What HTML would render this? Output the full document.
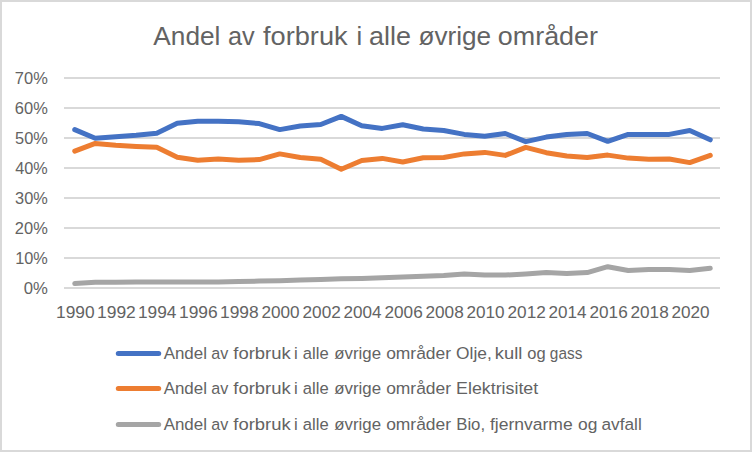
<!DOCTYPE html>
<html><head><meta charset="utf-8"><style>
html,body{margin:0;padding:0;background:#fff;}
svg{display:block;}
text{font-family:"Liberation Sans",sans-serif;fill:#636363;}
</style></head><body>
<svg width="752" height="452" viewBox="0 0 752 452">
<rect x="1" y="1" width="750" height="450" fill="#fff" stroke="#d9d9d9" stroke-width="2"/>
<text x="153.35" y="45.0" font-size="25.5" textLength="67.11" lengthAdjust="spacingAndGlyphs">Andel</text>
<text x="227.92" y="45.0" font-size="25.5" textLength="26.76" lengthAdjust="spacingAndGlyphs">av</text>
<text x="263.01" y="45.0" font-size="25.5" textLength="84.65" lengthAdjust="spacingAndGlyphs">forbruk</text>
<text x="356.47" y="45.0" font-size="25.5">i</text>
<text x="369.06" y="45.0" font-size="25.5" textLength="41.94" lengthAdjust="spacingAndGlyphs">alle</text>
<text x="418.54" y="45.0" font-size="25.5" textLength="72.62" lengthAdjust="spacingAndGlyphs">øvrige</text>
<text x="497.87" y="45.0" font-size="25.5" textLength="100.07" lengthAdjust="spacingAndGlyphs">områder</text>
<g stroke="#d9d9d9" stroke-width="2"><line x1="64" y1="288" x2="720" y2="288"/><line x1="64" y1="258" x2="720" y2="258"/><line x1="64" y1="228" x2="720" y2="228"/><line x1="64" y1="198" x2="720" y2="198"/><line x1="64" y1="168" x2="720" y2="168"/><line x1="64" y1="138" x2="720" y2="138"/><line x1="64" y1="108" x2="720" y2="108"/><line x1="64" y1="78" x2="720" y2="78"/></g>
<text x="23.65" y="293.8" font-size="17.2" textLength="24.15" lengthAdjust="spacingAndGlyphs">0%</text>
<text x="15.16" y="263.8" font-size="17.2" textLength="32.62" lengthAdjust="spacingAndGlyphs">10%</text>
<text x="14.87" y="233.8" font-size="17.2" textLength="32.91" lengthAdjust="spacingAndGlyphs">20%</text>
<text x="15.08" y="203.8" font-size="17.2" textLength="32.70" lengthAdjust="spacingAndGlyphs">30%</text>
<text x="15.33" y="173.8" font-size="17.2" textLength="32.45" lengthAdjust="spacingAndGlyphs">40%</text>
<text x="15.05" y="143.8" font-size="17.2" textLength="32.74" lengthAdjust="spacingAndGlyphs">50%</text>
<text x="14.86" y="113.8" font-size="17.2" textLength="32.92" lengthAdjust="spacingAndGlyphs">60%</text>
<text x="14.86" y="83.8" font-size="17.2" textLength="32.93" lengthAdjust="spacingAndGlyphs">70%</text>
<text x="56.03" y="317.8" font-size="16.4" textLength="38.60" lengthAdjust="spacingAndGlyphs">1990</text>
<text x="97.02" y="317.8" font-size="16.4" textLength="38.81" lengthAdjust="spacingAndGlyphs">1992</text>
<text x="138.03" y="317.8" font-size="16.4" textLength="38.42" lengthAdjust="spacingAndGlyphs">1994</text>
<text x="179.03" y="317.8" font-size="16.4" textLength="38.69" lengthAdjust="spacingAndGlyphs">1996</text>
<text x="220.03" y="317.8" font-size="16.4" textLength="38.68" lengthAdjust="spacingAndGlyphs">1998</text>
<text x="261.49" y="317.8" font-size="16.4" textLength="38.13" lengthAdjust="spacingAndGlyphs">2000</text>
<text x="302.48" y="317.8" font-size="16.4" textLength="38.33" lengthAdjust="spacingAndGlyphs">2002</text>
<text x="343.49" y="317.8" font-size="16.4" textLength="37.96" lengthAdjust="spacingAndGlyphs">2004</text>
<text x="384.49" y="317.8" font-size="16.4" textLength="38.22" lengthAdjust="spacingAndGlyphs">2006</text>
<text x="425.49" y="317.8" font-size="16.4" textLength="38.21" lengthAdjust="spacingAndGlyphs">2008</text>
<text x="466.49" y="317.8" font-size="16.4" textLength="38.13" lengthAdjust="spacingAndGlyphs">2010</text>
<text x="507.48" y="317.8" font-size="16.4" textLength="38.33" lengthAdjust="spacingAndGlyphs">2012</text>
<text x="548.49" y="317.8" font-size="16.4" textLength="37.96" lengthAdjust="spacingAndGlyphs">2014</text>
<text x="589.49" y="317.8" font-size="16.4" textLength="38.22" lengthAdjust="spacingAndGlyphs">2016</text>
<text x="630.49" y="317.8" font-size="16.4" textLength="38.21" lengthAdjust="spacingAndGlyphs">2018</text>
<text x="671.49" y="317.8" font-size="16.4" textLength="38.13" lengthAdjust="spacingAndGlyphs">2020</text>
<g fill="none" stroke-width="5" stroke-linejoin="round" stroke-linecap="round">
<path d="M74.75,283.50 L95.25,282.30 L115.75,282.30 L136.25,282.00 L156.75,282.00 L177.25,282.00 L197.75,282.00 L218.25,282.00 L238.75,281.55 L259.25,281.10 L279.75,280.65 L300.25,280.05 L320.75,279.45 L341.25,278.85 L361.75,278.40 L382.25,277.65 L402.75,276.90 L423.25,276.15 L443.75,275.40 L464.25,273.90 L484.75,275.10 L505.25,275.10 L525.75,274.05 L546.25,272.55 L566.75,273.45 L587.25,272.55 L607.75,266.70 L628.25,270.45 L648.75,269.55 L669.25,269.55 L689.75,270.45 L710.25,268.35" stroke="#a5a5a5"/>
<path d="M74.75,151.20 L95.25,143.40 L115.75,145.20 L136.25,146.40 L156.75,147.30 L177.25,157.20 L197.75,160.20 L218.25,159.00 L238.75,160.20 L259.25,159.60 L279.75,153.90 L300.25,157.50 L320.75,159.30 L341.25,169.20 L361.75,160.50 L382.25,158.40 L402.75,162.00 L423.25,157.80 L443.75,157.50 L464.25,153.90 L484.75,152.40 L505.25,155.40 L525.75,147.30 L546.25,152.70 L566.75,156.00 L587.25,157.50 L607.75,155.10 L628.25,158.10 L648.75,159.30 L669.25,159.00 L689.75,162.60 L710.25,155.40" stroke="#ed7d31"/>
<path d="M74.75,129.60 L95.25,138.30 L115.75,136.80 L136.25,135.30 L156.75,133.20 L177.25,123.30 L197.75,121.20 L218.25,121.20 L238.75,121.80 L259.25,123.60 L279.75,129.60 L300.25,126.00 L320.75,124.50 L341.25,116.40 L361.75,125.70 L382.25,128.40 L402.75,124.80 L423.25,129.00 L443.75,130.50 L464.25,134.40 L484.75,136.20 L505.25,133.50 L525.75,141.60 L546.25,137.10 L566.75,134.40 L587.25,133.50 L607.75,141.30 L628.25,134.40 L648.75,134.40 L669.25,134.40 L689.75,130.50 L710.25,139.80" stroke="#4472c4"/>
</g>
<g stroke-width="5" stroke-linecap="round">
<line x1="118.3" y1="353.5" x2="158.7" y2="353.5" stroke="#4472c4"/>
<line x1="118.3" y1="388.5" x2="158.7" y2="388.5" stroke="#ed7d31"/>
<line x1="118.3" y1="424.6" x2="158.7" y2="424.6" stroke="#a5a5a5"/>
</g>
<text x="163.67" y="359.0" font-size="16.8" textLength="43.26" lengthAdjust="spacingAndGlyphs">Andel</text>
<text x="211.31" y="359.0" font-size="16.8" textLength="17.04" lengthAdjust="spacingAndGlyphs">av</text>
<text x="233.34" y="359.0" font-size="16.8" textLength="57.33" lengthAdjust="spacingAndGlyphs">forbruk</text>
<text x="294.09" y="359.0" font-size="16.8">i</text>
<text x="302.79" y="359.0" font-size="16.8" textLength="25.84" lengthAdjust="spacingAndGlyphs">alle</text>
<text x="334.34" y="359.0" font-size="16.8" textLength="46.71" lengthAdjust="spacingAndGlyphs">øvrige</text>
<text x="386.17" y="359.0" font-size="16.8" textLength="64.92" lengthAdjust="spacingAndGlyphs">områder</text>
<text x="456.08" y="359.0" font-size="16.8" textLength="35.68" lengthAdjust="spacingAndGlyphs">Olje,</text>
<text x="494.87" y="359.0" font-size="16.8" textLength="27.46" lengthAdjust="spacingAndGlyphs">kull</text>
<text x="527.21" y="359.0" font-size="16.8" textLength="18.36" lengthAdjust="spacingAndGlyphs">og</text>
<text x="549.85" y="359.0" font-size="16.8" textLength="32.50" lengthAdjust="spacingAndGlyphs">gass</text>
<text x="163.67" y="393.7" font-size="16.8" textLength="43.26" lengthAdjust="spacingAndGlyphs">Andel</text>
<text x="211.31" y="393.7" font-size="16.8" textLength="17.04" lengthAdjust="spacingAndGlyphs">av</text>
<text x="233.34" y="393.7" font-size="16.8" textLength="57.33" lengthAdjust="spacingAndGlyphs">forbruk</text>
<text x="294.09" y="393.7" font-size="16.8">i</text>
<text x="302.79" y="393.7" font-size="16.8" textLength="25.84" lengthAdjust="spacingAndGlyphs">alle</text>
<text x="334.34" y="393.7" font-size="16.8" textLength="46.71" lengthAdjust="spacingAndGlyphs">øvrige</text>
<text x="386.17" y="393.7" font-size="16.8" textLength="64.92" lengthAdjust="spacingAndGlyphs">områder</text>
<text x="456.14" y="393.7" font-size="16.8" textLength="82.09" lengthAdjust="spacingAndGlyphs">Elektrisitet</text>
<text x="163.67" y="429.8" font-size="16.8" textLength="43.26" lengthAdjust="spacingAndGlyphs">Andel</text>
<text x="211.31" y="429.8" font-size="16.8" textLength="17.04" lengthAdjust="spacingAndGlyphs">av</text>
<text x="233.34" y="429.8" font-size="16.8" textLength="57.33" lengthAdjust="spacingAndGlyphs">forbruk</text>
<text x="294.09" y="429.8" font-size="16.8">i</text>
<text x="302.79" y="429.8" font-size="16.8" textLength="25.84" lengthAdjust="spacingAndGlyphs">alle</text>
<text x="334.34" y="429.8" font-size="16.8" textLength="46.71" lengthAdjust="spacingAndGlyphs">øvrige</text>
<text x="386.17" y="429.8" font-size="16.8" textLength="64.92" lengthAdjust="spacingAndGlyphs">områder</text>
<text x="456.23" y="429.8" font-size="16.8" textLength="28.88" lengthAdjust="spacingAndGlyphs">Bio,</text>
<text x="489.95" y="429.8" font-size="16.8" textLength="82.73" lengthAdjust="spacingAndGlyphs">fjernvarme</text>
<text x="578.07" y="429.8" font-size="16.8" textLength="19.35" lengthAdjust="spacingAndGlyphs">og</text>
<text x="601.47" y="429.8" font-size="16.8" textLength="40.29" lengthAdjust="spacingAndGlyphs">avfall</text>
</svg>
</body></html>
